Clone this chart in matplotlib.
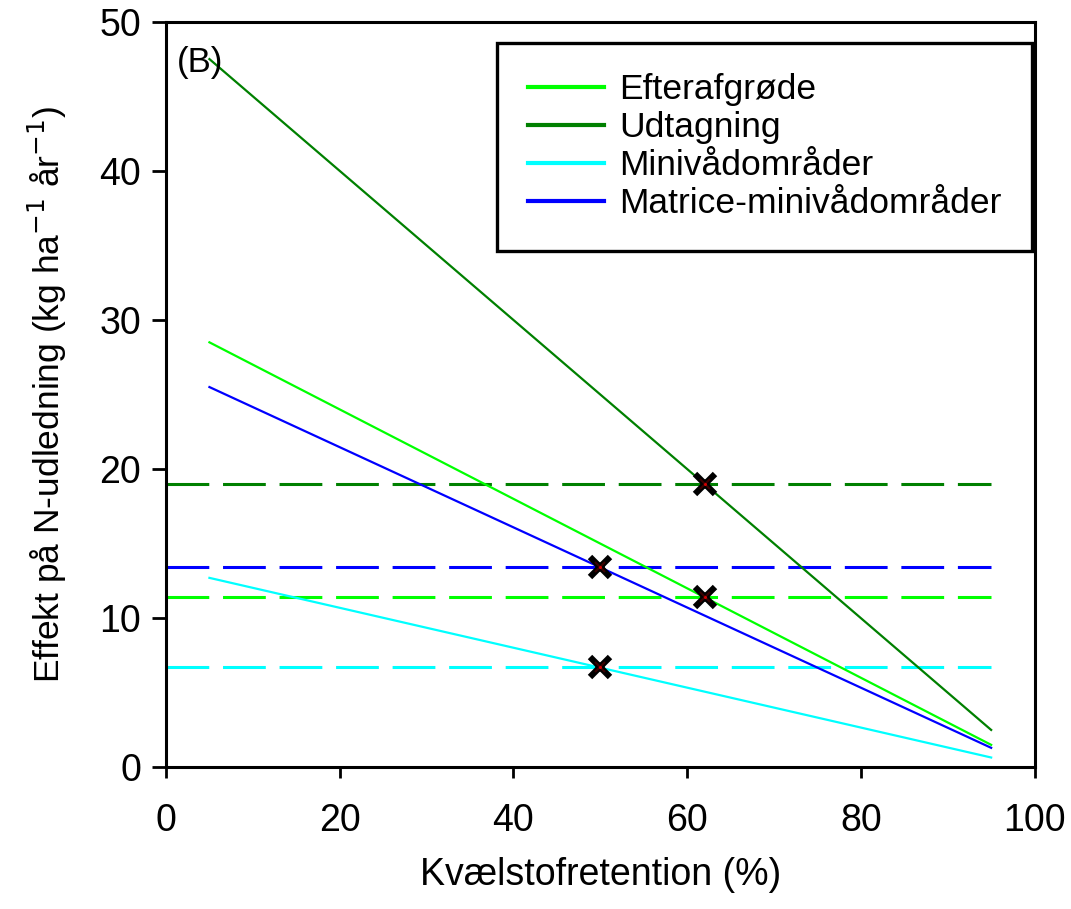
import matplotlib
matplotlib.use("Agg")
import matplotlib.pyplot as plt
import numpy as np

plt.rcParams['font.family'] = ['Liberation Sans', 'DejaVu Sans']

# retention (%) range for the scenario lines
retention = [5, 95]
efterafgroede = [28.5, 1.5]
udtagning = [47.5, 2.5]
minivaad = [12.7, 0.65]
matrice = [25.5, 1.3]

# reference levels (dashed) and crossing points
ref_x = [0, 95]
ref_levels = [19.0, 13.4, 11.4, 6.7]
ref_colors = ['#008000', '#0000ff', '#00ff00', '#00ffff']
cross_x = [62, 50, 62, 50]
cross_y = [19.0, 13.4, 11.4, 6.7]

fig = plt.figure(figsize=(10.71, 9.09), dpi=100)
ax = fig.add_axes([0.155, 0.156, 0.811, 0.82])

for lvl, c in zip(ref_levels, ref_colors):
    ax.plot(ref_x, [lvl, lvl], color=c, lw=2.2, dashes=(14, 4.5), zorder=2)

ax.plot(retention, efterafgroede, color='#00ff00', lw=1.6, label='Efterafgrøde', zorder=3)
ax.plot(retention, udtagning, color='#008000', lw=1.6, label='Udtagning', zorder=3)
ax.plot(retention, minivaad, color='#00ffff', lw=1.6, label='Minivådområder', zorder=3)
ax.plot(retention, matrice, color='#0000ff', lw=1.6, label='Matrice-minivådområder', zorder=3)

ax.plot(cross_x, cross_y, ls='none', marker='x', ms=15, mew=4.5, color='black', zorder=5)
ax.plot(cross_x, cross_y, ls='none', marker='x', ms=7, mew=1.5, color='#3a0000', zorder=6)
ax.plot(cross_x, cross_y, ls='none', marker='o', ms=2.2, mew=0, color='#d00000', zorder=7)

ax.set_xlim(0, 100)
ax.set_ylim(0, 50)
ax.set_xticks(np.arange(0, 101, 20))
ax.set_yticks(np.arange(0, 51, 10))
for s in ax.spines.values():
    s.set_linewidth(2.2)
ax.tick_params(axis='x', direction='out', length=8, width=2, pad=18, labelsize=27)
ax.tick_params(axis='y', direction='out', length=10, width=2, pad=8, labelsize=27)

ax.set_xlabel('Kvælstofretention (%)', fontsize=27, labelpad=13)
ax.set_ylabel('Effekt på N-udledning (kg ha$^{-1}$ år$^{-1}$)', fontsize=25.5, labelpad=22)

ax.text(0.013, 0.968, '(B)', transform=ax.transAxes, fontsize=25, va='top', ha='left')

leg = ax.legend(loc='upper right', bbox_to_anchor=(0.997, 0.972), fontsize=25.5,
                frameon=True, fancybox=False, handlelength=2.15, handletextpad=0.42,
                labelspacing=0.14, borderpad=0.87, borderaxespad=0)
leg.get_frame().set_edgecolor('black')
leg.get_frame().set_alpha(1)
leg.get_frame().set_linewidth(2.4)
for line in leg.get_lines():
    line.set_linewidth(3)

fig.savefig('out.png', dpi=100)
